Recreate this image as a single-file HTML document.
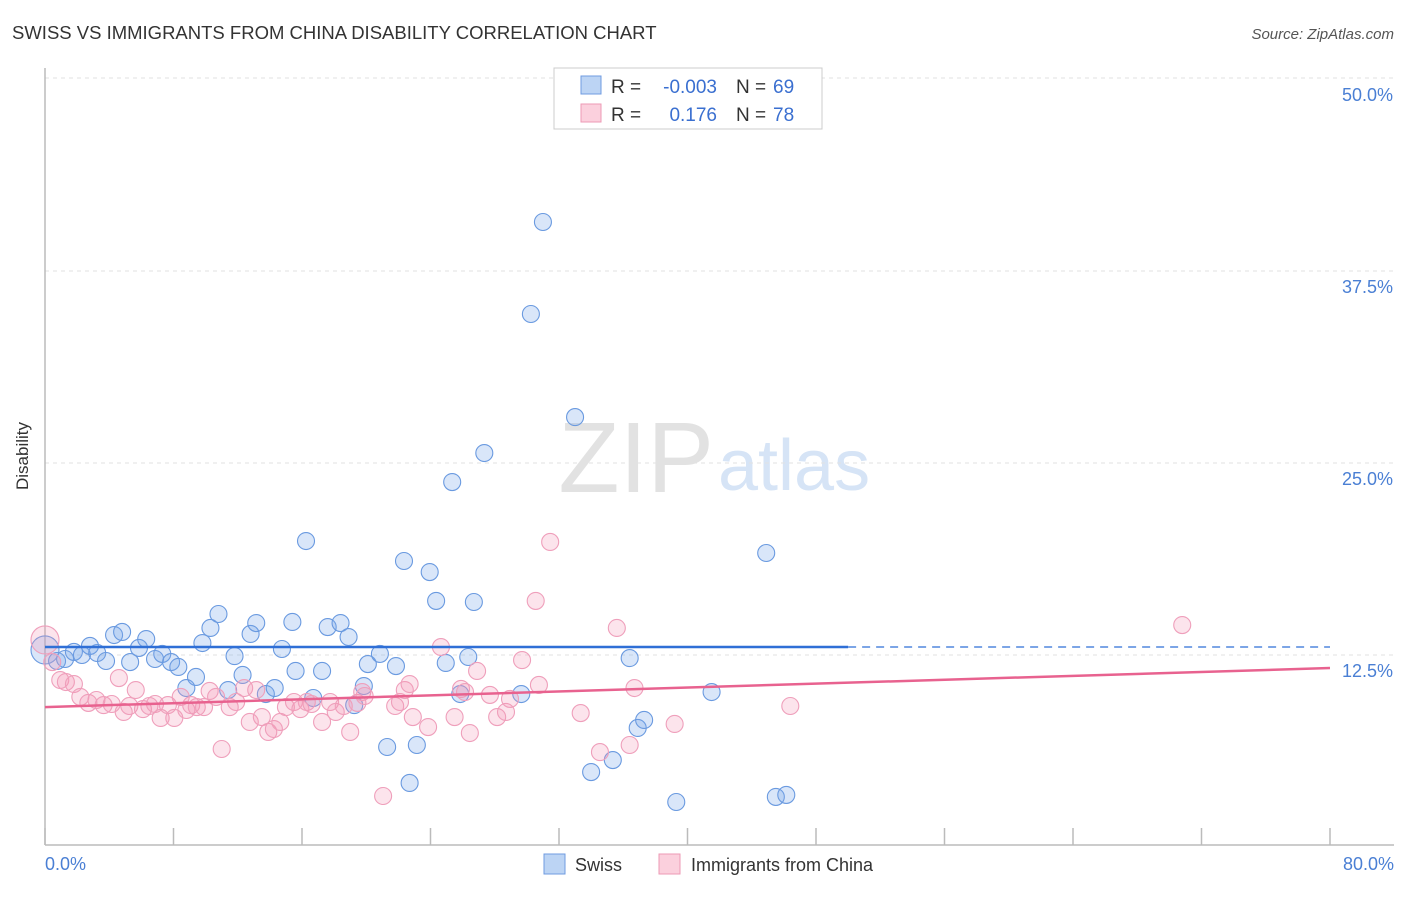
<!DOCTYPE html>
<html><head><meta charset="utf-8"><style>
body{margin:0;background:#fff;font-family:"Liberation Sans",sans-serif;}
svg text{font-family:"Liberation Sans",sans-serif;}
</style></head><body>
<svg id="chart" width="1406" height="892" viewBox="0 0 1406 892">
<text x="12" y="39" font-size="18.5" fill="#333">SWISS VS IMMIGRANTS FROM CHINA DISABILITY CORRELATION CHART</text>
<text x="1394" y="39" font-size="15" fill="#555" font-style="italic" text-anchor="end">Source: ZipAtlas.com</text>
<text x="714" y="492" font-size="100" fill="#e2e2e2" text-anchor="end" font-family="Liberation Serif">ZIP</text>
<text x="718" y="490" font-size="72" fill="#d6e4f6">atlas</text>
<g id="grid"></g>
<line x1="45" y1="68" x2="45" y2="845" stroke="#bbb" stroke-width="1.5"/>
<line x1="45" y1="845" x2="1394" y2="845" stroke="#bbb" stroke-width="1.5"/>
<g id="ticks"></g>
<text x="28" y="456" font-size="17" fill="#333" text-anchor="middle" transform="rotate(-90 28 456)">Disability</text>
<text x="45" y="870" font-size="18" fill="#4a7fd4">0.0%</text>
<text x="1394" y="870" font-size="18" fill="#4a7fd4" text-anchor="end">80.0%</text>
<g id="pts"></g>
<g id="trends"></g>
<g>
<rect x="554" y="68" width="268" height="61" fill="#fff" stroke="#ccc"/>
<rect x="581" y="76" width="20" height="18" fill="#bcd4f4" stroke="#6f9be0"/>
<rect x="581" y="104" width="20" height="18" fill="#fbd0dd" stroke="#ec9ab5"/>
<text x="611" y="93" font-size="19" fill="#333">R =</text>
<text x="717" y="93" font-size="19" fill="#3a6fd0" text-anchor="end">-0.003</text>
<text x="736" y="93" font-size="19" fill="#333">N =</text>
<text x="773" y="93" font-size="19" fill="#3a6fd0">69</text>
<text x="611" y="121" font-size="19" fill="#333">R =</text>
<text x="717" y="121" font-size="19" fill="#3a6fd0" text-anchor="end">0.176</text>
<text x="736" y="121" font-size="19" fill="#333">N =</text>
<text x="773" y="121" font-size="19" fill="#3a6fd0">78</text>
</g>
<g>
<rect x="544" y="854" width="21" height="20" fill="#bcd4f4" stroke="#6f9be0"/>
<text x="575" y="871" font-size="18" fill="#333">Swiss</text>
<rect x="659" y="854" width="21" height="20" fill="#fbd0dd" stroke="#ec9ab5"/>
<text x="691" y="871" font-size="18" fill="#333">Immigrants from China</text>
</g>
</svg>
<script>
const yTicks=[12.5,25,37.5,50];
const yTickLabels=["12.5%","25.0%","37.5%","50.0%"];
const xTicks=[0,8,16,24,32,40,48,56,64,72,80];
const swissX=[0,0.75,1.25,1.8,2.3,2.8,3.25,3.8,4.3,4.8,5.3,5.85,6.3,6.85,7.3,7.85,8.3,8.8,9.4,9.8,10.3,10.8,11.4,11.8,12.3,12.8,13.15,13.75,14.3,14.75,15.4,15.6,16.25,16.7,17.25,17.6,18.4,18.9,19.25,19.85,20.1,20.85,21.3,21.85,22.35,22.7,23.15,23.95,24.35,24.95,25.35,25.85,26.35,26.7,27.35,29.65,30.25,31.0,33.0,34.0,35.35,36.4,36.9,37.3,39.3,41.5,44.9,45.5,46.15];
const swissY=[12.83,12.11,12.24,12.7,12.5,13.09,12.63,12.11,13.8,14.0,12.04,12.96,13.54,12.24,12.57,12.04,11.72,10.35,11.07,13.28,14.26,15.17,10.22,12.43,11.2,13.87,14.58,9.96,10.35,12.89,14.65,11.46,19.92,9.7,11.46,14.32,14.58,13.67,9.24,10.48,11.91,12.57,6.51,11.78,18.62,4.17,6.64,17.9,16.02,11.98,23.76,9.96,12.37,15.95,25.65,9.96,34.7,40.69,27.99,4.88,5.66,12.3,7.75,8.27,2.93,10.09,19.14,3.26,3.39];
const chinaX=[0,0.45,0.95,1.3,1.8,2.2,2.7,3.2,3.65,4.15,4.6,4.9,5.25,5.65,6.1,6.5,6.85,7.2,7.65,8.05,8.45,8.8,9.1,9.45,9.9,10.25,10.65,11.0,11.5,11.9,12.4,12.75,13.15,13.5,13.9,14.25,14.65,15.0,15.5,15.9,16.3,16.6,17.25,17.75,18.1,18.6,19.0,19.45,19.75,19.9,21.05,21.8,22.1,22.4,22.7,22.9,23.85,24.65,25.5,25.9,26.15,26.45,26.9,27.7,28.15,28.7,28.95,29.7,30.55,30.75,31.45,33.35,34.55,35.6,36.4,36.7,39.2,46.4,70.8];
const chinaY=[13.48,12.04,10.87,10.74,10.61,9.77,9.38,9.57,9.24,9.31,11.0,8.79,9.18,10.22,8.98,9.18,9.31,8.4,9.24,8.4,9.77,8.92,9.24,9.11,9.11,10.16,9.77,6.38,9.11,9.44,10.35,8.14,10.22,8.46,7.49,7.68,8.14,9.11,9.44,8.98,9.44,9.31,8.14,9.44,8.79,9.18,7.49,9.38,10.09,9.83,3.32,9.18,9.44,10.22,10.61,8.46,7.81,13.02,8.46,10.29,10.09,7.42,11.46,9.9,8.46,8.79,9.64,12.17,16.02,10.55,19.86,8.72,6.18,14.26,6.64,10.35,8.01,9.18,14.45];
const swissTrend=[13.02,13.02];
const chinaTrend=[9.11,11.65];
const NS="http://www.w3.org/2000/svg";
const X=v=>45+v*(1285/80);
const Y=v=>847-v*(192/12.5);
function mk(tag,attrs,parent){const e=document.createElementNS(NS,tag);for(const k in attrs)e.setAttribute(k,attrs[k]);parent.appendChild(e);return e;}
const grid=document.getElementById('grid'),ticks=document.getElementById('ticks'),pts=document.getElementById('pts'),tr=document.getElementById('trends');
yTicks.forEach((t,i)=>{
 const l=mk('line',{x1:45,x2:1394,y1:Y(t)-(i==3?1:0),y2:Y(t)-(i==3?1:0),stroke:'#e2e2e2','stroke-dasharray':'4,4'},grid);
 
 
 const tx=mk('text',{x:1393,y:Y(t)+22,'font-size':18,fill:'#4a7fd4','text-anchor':'end'},grid);
 tx.textContent=yTickLabels[i];
 
 
});
xTicks.forEach(t=>{
 const l=mk('line',{x1:X(t),x2:X(t),y1:828,y2:845,stroke:'#bbb','stroke-width':1.5},ticks);
 
 
});
swissX.forEach((x,i)=>{
 const c=mk('circle',{cx:X(x),cy:Y(swissY[i]),r:i==0?14:8.5,fill:'rgba(120,165,235,0.28)',stroke:'#6a9ae0','stroke-width':1.1},pts);
 
 
});
chinaX.forEach((x,i)=>{
 const c=mk('circle',{cx:X(x),cy:Y(chinaY[i]),r:i==0?14:8.5,fill:'rgba(245,150,180,0.26)',stroke:'#ef9fbb','stroke-width':1.1},pts);
 
 
});
const b1=mk('line',{x1:X(0),x2:X(50),y1:Y(swissTrend[0]),y2:Y(swissTrend[0]+(swissTrend[1]-swissTrend[0])*50/80),stroke:'#2f6fd6','stroke-width':2.5},tr);


const b2=mk('line',{x1:X(50),x2:X(80),y1:Y(swissTrend[0]),y2:Y(swissTrend[1]),stroke:'#2f6fd6','stroke-width':1.2,'stroke-dasharray':'8,6'},tr);


const p1=mk('line',{x1:X(0),x2:X(80),y1:Y(chinaTrend[0]),y2:Y(chinaTrend[1]),stroke:'#e8628f','stroke-width':2.5},tr);


</script>
</body></html>
